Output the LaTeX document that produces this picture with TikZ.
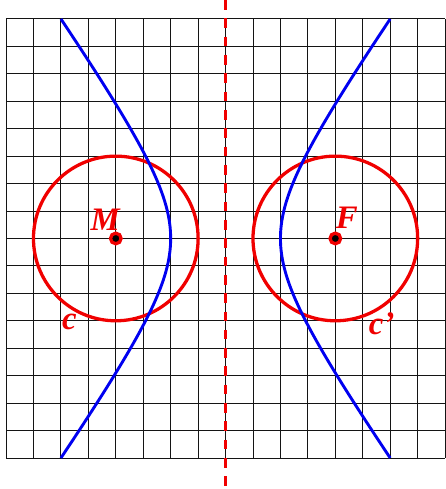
\documentclass[tikz,border=0pt]{standalone}
\usepackage{fontspec}
\setmainfont{Liberation Serif}
\usetikzlibrary{positioning}
\definecolor{gridcol}{RGB}{20, 20, 20}
\definecolor{circcol}{RGB}{240, 0, 0}
\definecolor{hypcol}{RGB}{0, 0, 240}
\tikzset{
  gridline/.style = {draw=gridcol, line width=0.5pt},
  circ/.style     = {draw=circcol, line width=1.7pt},
  hyp/.style      = {draw=hypcol, line width=1.5pt},
  % the symmetry axis between the two foci
  axis/.style     = {draw=circcol, line width=1.4pt, dash pattern=on 5pt off 4.5pt},
  focus/.style    = {circle, fill=black, draw=circcol, line width=1.7pt,
                     inner sep=0pt, minimum size=5.5pt},
  lbl/.style      = {text=circcol, font=\fontsize{17}{19}\selectfont\bfseries\itshape,
                     inner sep=1pt},
}

\begin{document}
\begin{tikzpicture}[x=0.5cm, y=0.5cm]

  \useasboundingbox (-0.22,-1.13) rectangle (16.0,16.69);

  %% ---------------- grid ----------------
  \foreach \i in {0,...,16} {
    \draw[gridline] (\i,0) -- (\i,16);
    \draw[gridline] (0,\i) -- (16,\i);
  }

  %% ---------------- axis ----------------
  \coordinate (axtop) at (8,16.69);
  \coordinate (axbot) at (8,-1.13);
  \draw[axis] (axtop) -- (axbot);

  %% ---------------- circles c and c' ----------------
  \coordinate (cM) at (4,8);
  \coordinate (cF) at (12,8);
  \draw[circ] (cM) circle (3);
  \draw[circ] (cF) circle (3);

  %% ---------------- hyperbola, both branches ----------------
  \foreach \s in {-1,1} {
    \draw[hyp] plot[domain=0:16, samples=90, variable=\t]
      ({8+\s*2*sqrt(1+(\t-8)*(\t-8)/8)}, \t);
  }

  %% ---------------- points and labels ----------------
  \node[focus] (M) at (cM) {};
  \node[focus] (F) at (cF) {};
  \node[lbl] (labM) at (3.61,8.67) {M};
  \node[lbl] (labF) at (12.42,8.74) {F};
  \node[lbl] (labc) at (2.31,4.97) {c};
  \node[lbl] (labcc) at (13.69,4.9) {c’};

\end{tikzpicture}
\end{document}
